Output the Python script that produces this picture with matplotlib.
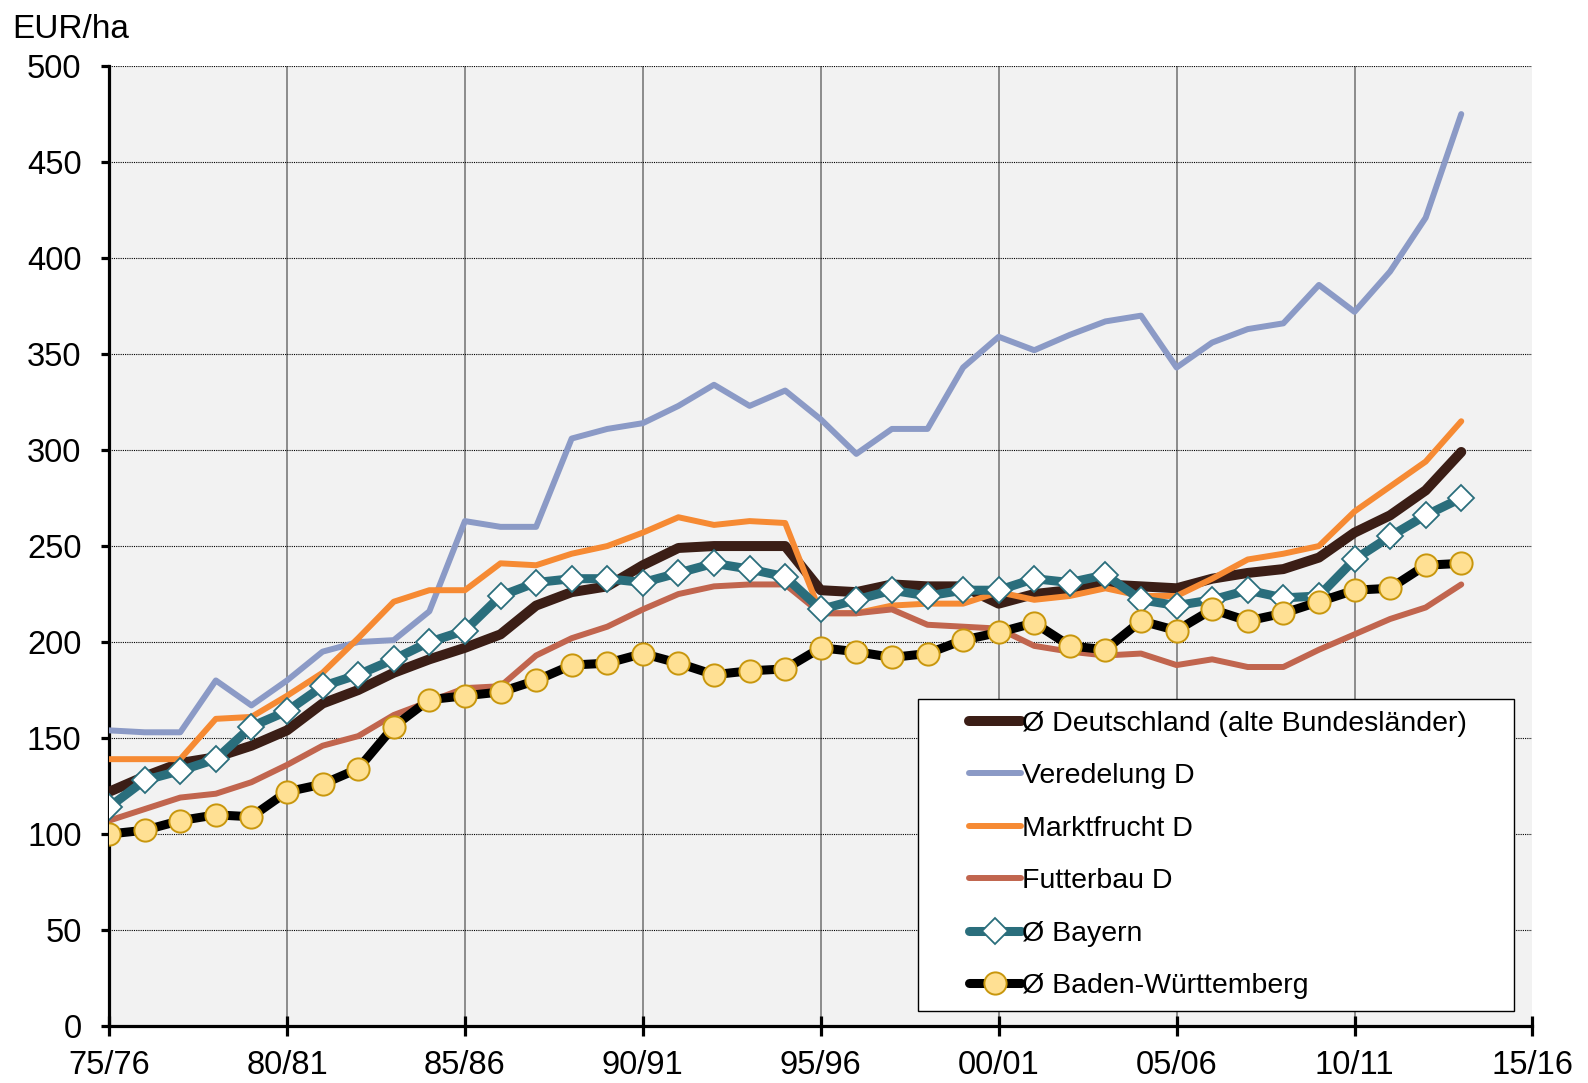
import matplotlib
matplotlib.use("Agg")
from matplotlib import pyplot as plt
from matplotlib.legend_handler import HandlerLine2D
from matplotlib.lines import Line2D

# Wirtschaftsjahre 1975/76 bis 2013/14
jahre = list(range(1975, 2014))
tick_jahre = [1975, 1980, 1985, 1990, 1995, 2000, 2005, 2010, 2015]
tick_labels = ["75/76", "80/81", "85/86", "90/91", "95/96", "00/01", "05/06", "10/11", "15/16"]

deutschland = [122, 130, 137, 140, 146, 154, 168, 175, 184, 191, 197, 204, 219, 226, 229, 240,
               249, 250, 250, 250, 227, 226, 230, 229, 229, 220, 225, 227, 230, 229, 228, 233,
               236, 238, 244, 257, 266, 279, 299]
veredelung = [154, 153, 153, 180, 167, 180, 195, 200, 201, 216, 263, 260, 260, 306, 311, 314,
              323, 334, 323, 331, 316, 298, 311, 311, 343, 359, 352, 360, 367, 370, 343, 356,
              363, 366, 386, 372, 393, 421, 475]
marktfrucht = [139, 139, 139, 160, 161, 172, 184, 202, 221, 227, 227, 241, 240, 246, 250, 257,
               265, 261, 263, 262, 215, 215, 219, 220, 220, 226, 222, 224, 228, 224, 224, 233,
               243, 246, 250, 268, 281, 294, 315]
futterbau = [107, 113, 119, 121, 127, 136, 146, 151, 162, 169, 176, 177, 193, 202, 208, 217,
             225, 229, 230, 230, 215, 215, 217, 209, 208, 207, 198, 195, 193, 194, 188, 191,
             187, 187, 196, 204, 212, 218, 230]
bayern = [114, 128, 133, 139, 156, 164, 177, 183, 191, 200, 206, 224, 231, 233, 233, 231,
          236, 241, 238, 234, 217, 222, 227, 224, 227, 227, 233, 231, 235, 222, 219, 222,
          227, 223, 224, 243, 255, 266, 275]
baden_wuerttemberg = [100, 102, 107, 110, 109, 122, 126, 134, 156, 170, 172, 174, 180, 188, 189, 194,
                      189, 183, 185, 186, 197, 195, 192, 194, 201, 205, 210, 198, 196, 211, 206, 217,
                      211, 215, 221, 227, 228, 240, 241]

x = [j - 1975 for j in jahre]

plt.rcParams['font.family'] = ['Liberation Sans', 'DejaVu Sans']
plt.rcParams['font.size'] = 23.5

fig = plt.figure(figsize=(15.88, 10.83), dpi=100)
ax = fig.add_axes([0.0687, 0.0526, 0.8963, 0.8864])
ax.set_facecolor("#F2F2F2")

stil = dict(solid_capstyle='round', solid_joinstyle='round')
ax.plot(x, deutschland, color="#3B1E16", lw=7.2, label="Ø Deutschland (alte Bundesländer)", zorder=3, **stil)
ax.plot(x, veredelung, color="#8B9AC6", lw=4.3, label="Veredelung D", zorder=3, **stil)
ax.plot(x, marktfrucht, color="#F68A33", lw=4.3, label="Marktfrucht D", zorder=3, **stil)
ax.plot(x, futterbau, color="#C1654E", lw=4.3, label="Futterbau D", zorder=3, **stil)
ax.plot(x, bayern, color="#2A6E7C", lw=6.5, marker='D', ms=13, mfc='white', mec="#2A6E7C",
        mew=1.3, label="Ø Bayern", zorder=4, **stil)
ax.plot(x, baden_wuerttemberg, color="black", lw=6.5, marker='o', ms=16, mfc="#FFE093",
        mec="#C8960C", mew=1.4, label="Ø Baden-Württemberg", zorder=5, **stil)

ax.set_xlim(0, 40)
ax.set_ylim(0, 500)
ax.set_xticks([j - 1975 for j in tick_jahre])
ax.set_xticklabels(tick_labels)
ax.set_yticks(range(0, 501, 50))

# Gitter: horizontal gepunktet, vertikal grau
ax.yaxis.grid(True, color="black", linestyle=(0, (1, 1)), lw=0.8)
ax.xaxis.grid(True, color="#8C8C8C", lw=1.4)
ax.xaxis.get_gridlines()[-1].set_visible(False)
ax.set_axisbelow(True)

for s in ['top', 'right']:
    ax.spines[s].set_visible(False)
for s in ['left', 'bottom']:
    ax.spines[s].set_linewidth(2.3)
ax.tick_params(axis='y', direction='out', length=5.8, width=2.3, pad=14)
ax.tick_params(axis='x', direction='inout', length=13.7, width=2.3, pad=10.5)

fig.text(0.008, 0.987, "EUR/ha", va='top', ha='left', fontsize=24)

leg = ax.legend(loc='lower left', bbox_to_anchor=(0.568, 0.0156, 0.419, 0.327), mode='expand',
                borderaxespad=0, fancybox=False, framealpha=1, edgecolor='black', fontsize=20.5,
                handlelength=3.2, handletextpad=0.05, labelspacing=0.93, borderpad=0.42,
                handler_map={Line2D: HandlerLine2D(xpad=1.4)})
leg.get_frame().set_linewidth(1.0)

plt.savefig("out.png", dpi=100)
